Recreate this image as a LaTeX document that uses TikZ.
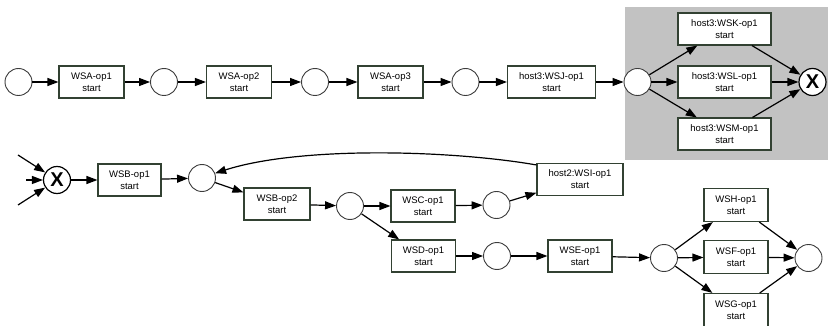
\documentclass[tikz,border=0pt]{standalone}
\usepackage{fontspec}
\setmainfont{Liberation Sans}
\usetikzlibrary{arrows.meta}
\definecolor{boxline}{RGB}{50,65,50}
\definecolor{grayzone}{RGB}{194,194,194}
\definecolor{placeline}{RGB}{60,60,60}
\begin{document}
\begin{tikzpicture}[x=1pt,y=-1pt,
 place/.style={circle,draw=placeline,line width=0.9pt,fill=white,minimum size=27pt,inner sep=0pt},
 xplace/.style={circle,draw=black,line width=1.2pt,fill=white,minimum size=27pt,inner sep=0pt,font=\fontsize{20}{20}\selectfont\bfseries},
 task/.style={rectangle,draw=boxline,line width=1.1pt,fill=white,minimum height=32pt,minimum width=65pt,inner sep=0pt,align=center,font=\fontsize{9.5}{12}\selectfont},
 widetask/.style={task,minimum width=88pt},
 flow/.style={line width=1.2pt,-{Triangle[length=11pt,width=8pt]}}]
\useasboundingbox (0,0) rectangle (828,326);
\fill[grayzone] (625,7) rectangle (828,160);
% top row
\node[place] (c1) at (18.5,82) {};
\node[task] (A1) at (91.5,82) {WSA-op1\\start};
\node[place] (c2) at (164,82) {};
\node[task] (A2) at (239,82) {WSA-op2\\start};
\node[place] (c3) at (315,82) {};
\node[task] (A3) at (390.5,82) {WSA-op3\\start};
\node[place] (c4) at (465.5,82) {};
\node[widetask] (J) at (551.5,82) {host3:WSJ-op1\\start};
\node[place] (c5) at (637.5,82) {};
\node[widetask,minimum width=93pt] (K) at (724.5,29) {host3:WSK-op1\\start};
\node[widetask,minimum width=93pt] (L) at (724.5,82) {host3:WSL-op1\\start};
\node[widetask,minimum width=93pt] (M) at (724.5,134) {host3:WSM-op1\\start};
\node[xplace] (X1) at (812.5,82) {X};
% bottom part
\coordinate (in1) at (18,155);
\coordinate (in2) at (26,180);
\coordinate (in3) at (18,205);
\node[xplace] (X2) at (57,180) {X};
\node[task,minimum width=63pt] (B1) at (129.5,180) {WSB-op1\\start};
\node[place] (c6) at (202,178) {};
\node[task,minimum width=66pt] (B2) at (277,204) {WSB-op2\\start};
\node[place] (c7) at (350,206) {};
\node[task,minimum width=64pt] (C) at (423,206) {WSC-op1\\start};
\node[place] (c8) at (496.5,205) {};
\node[widetask,minimum width=86pt] (I) at (580,179.5) {host2:WSI-op1\\start};
\node[task,minimum width=64pt] (D) at (423.5,256) {WSD-op1\\start};
\node[place] (c9) at (497,256) {};
\node[task,minimum width=64pt] (E) at (580,256) {WSE-op1\\start};
\node[place] (c10) at (664,258) {};
\node[task,minimum width=64pt,minimum height=33pt] (H) at (736,205) {WSH-op1\\start};
\node[task,minimum width=64pt,minimum height=33pt] (F) at (736,257) {WSF-op1\\start};
\node[task,minimum width=64pt,minimum height=33pt] (G) at (736,310) {WSG-op1\\start};
\node[place] (c11) at (808.5,258) {};
% connectors top
\draw[flow] (c1) -- (A1);
\draw[flow] (A1) -- (c2);
\draw[flow] (c2) -- (A2);
\draw[flow] (A2) -- (c3);
\draw[flow] (c3) -- (A3);
\draw[flow] (A3) -- (c4);
\draw[flow] (c4) -- (J);
\draw[flow] (J) -- (c5);
\draw[flow] (c5) -- (K);
\draw[flow] (c5) -- (L);
\draw[flow] (c5) -- (M);
\draw[flow] (K) -- (X1);
\draw[flow] (L) -- (X1);
\draw[flow] (M) -- (X1);
% connectors bottom
\draw[flow] (in1) -- (X2);
\draw[flow] (in2) -- (X2);
\draw[flow] (in3) -- (X2);
\draw[flow] (X2) -- (B1);
\draw[flow] (B1) -- (c6);
\draw[flow] (c6) -- (B2);
\draw[flow] (B2) -- (c7);
\draw[flow] (c7) -- (C);
\draw[flow] (C) -- (c8);
\draw[flow] (c8) -- (I);
\draw[flow] (I.north west) ++(0,2) .. controls (450,150) and (300,146) .. (c6.20);
\draw[flow] (c7) -- (D);
\draw[flow] (D) -- (c9);
\draw[flow] (c9) -- (E);
\draw[flow] (E) -- (c10);
\draw[flow] (c10) -- (H);
\draw[flow] (c10) -- (F);
\draw[flow] (c10) -- (G);
\draw[flow] (H) -- (c11);
\draw[flow] (F) -- (c11);
\draw[flow] (G) -- (c11);
\end{tikzpicture}
\end{document}
